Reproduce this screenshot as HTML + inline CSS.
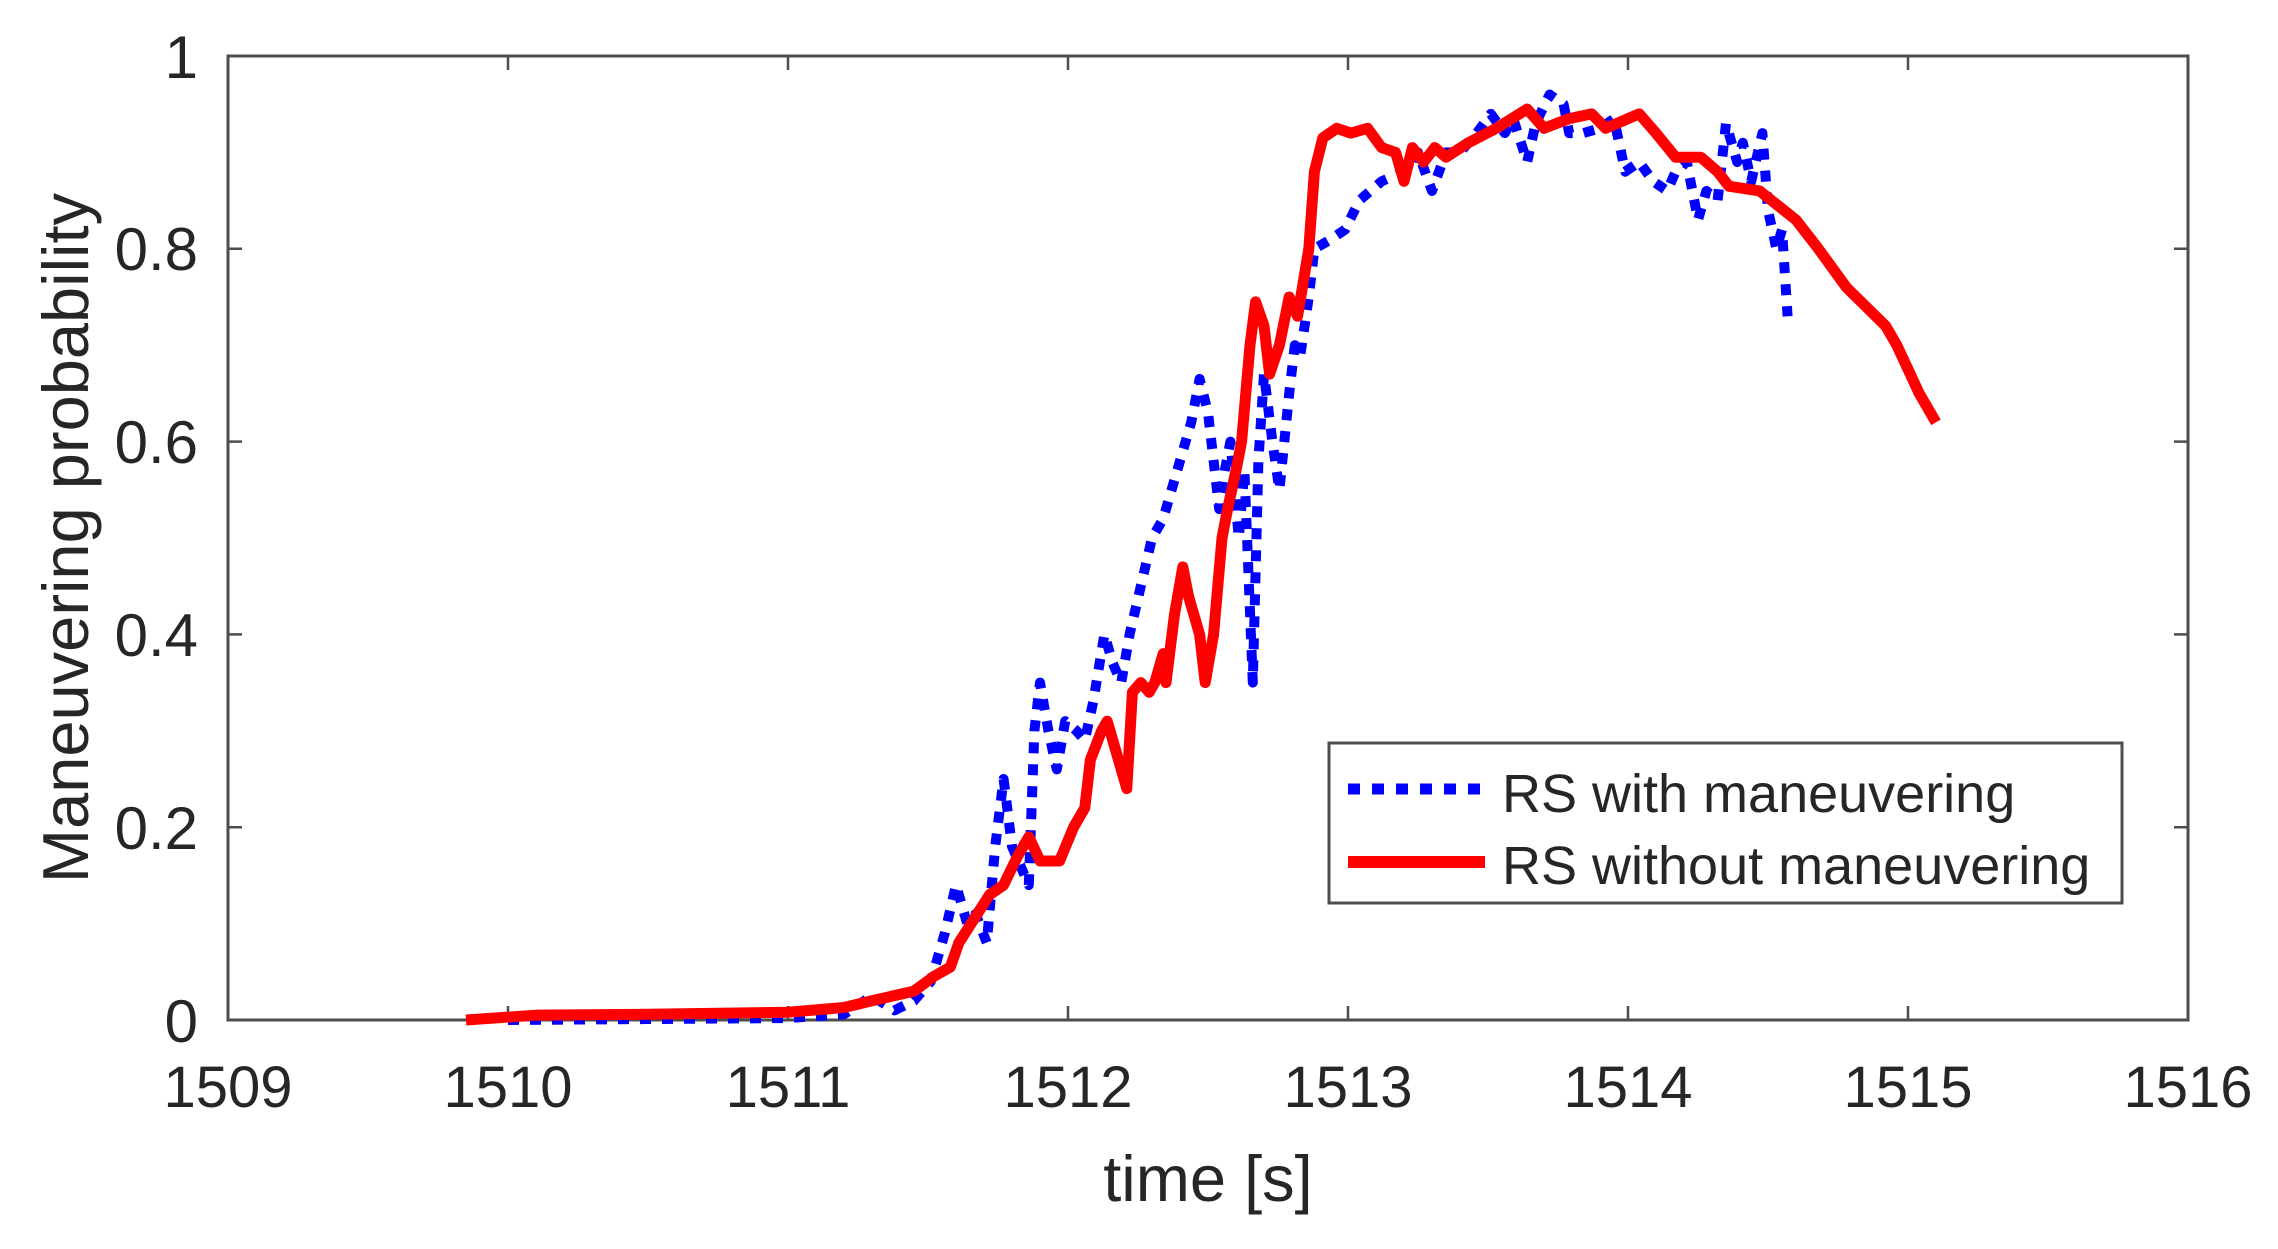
<!DOCTYPE html>
<html><head><meta charset="utf-8"><style>
html,body{margin:0;padding:0;background:#fff}
svg{display:block}
text{font-family:"Liberation Sans",Arial,sans-serif;fill:#262626}
</style></head><body>
<svg width="2278" height="1249" viewBox="0 0 2278 1249" xmlns="http://www.w3.org/2000/svg">
<rect width="2278" height="1249" fill="#fff"/>
<rect x="228" y="56" width="1960" height="964" fill="none" stroke="#4d4d4d" stroke-width="3"/>
<g stroke="#4d4d4d" stroke-width="2.5">
<path d="M508 1020v-14M788 1020v-14M1068 1020v-14M1348 1020v-14M1628 1020v-14M1908 1020v-14"/>
<path d="M508 56v14M788 56v14M1068 56v14M1348 56v14M1628 56v14M1908 56v14"/>
<path d="M228 827.2h14M228 634.4h14M228 441.6h14M228 248.8h14"/>
<path d="M2188 827.2h-14M2188 634.4h-14M2188 441.6h-14M2188 248.8h-14"/>
</g>
<g font-size="58" text-anchor="middle">
<text x="228" y="1107">1509</text><text x="508" y="1107">1510</text><text x="788" y="1107">1511</text>
<text x="1068" y="1107">1512</text><text x="1348" y="1107">1513</text><text x="1628" y="1107">1514</text>
<text x="1908" y="1107">1515</text><text x="2188" y="1107">1516</text>
</g>
<g font-size="60" text-anchor="end">
<text x="198" y="1042">0</text><text x="198" y="849">0.2</text><text x="198" y="656">0.4</text>
<text x="198" y="463">0.6</text><text x="198" y="270">0.8</text><text x="198" y="78">1</text>
</g>
<text x="1208" y="1201" font-size="65" text-anchor="middle">time [s]</text>
<text transform="translate(88,538) rotate(-90)" font-size="65" text-anchor="middle">Maneuvering probability</text>

<g transform="matrix(280,0,0,-964,228,1020)" fill="none" stroke-linejoin="round">
<polyline vector-effect="non-scaling-stroke" stroke="#0000ff" stroke-width="10" stroke-dasharray="11 11" points="
1.0,0.0 1.5,0.001 2.0,0.002 2.2,0.006 2.3,0.025 2.38,0.01 2.45,0.02 2.51,0.04 2.56,0.09 2.6,0.14 2.64,0.1 2.67,0.11 2.71,0.08 2.74,0.18 2.77,0.25 2.8,0.18 2.83,0.16 2.86,0.14 2.88,0.3 2.9,0.35 2.93,0.3 2.96,0.26 2.99,0.31 3.03,0.3 3.06,0.29 3.09,0.33 3.13,0.4 3.16,0.37 3.19,0.35 3.22,0.4 3.26,0.45 3.3,0.5 3.34,0.52 3.38,0.56 3.42,0.6 3.44,0.62 3.47,0.665 3.5,0.63 3.54,0.53 3.56,0.57 3.58,0.6 3.61,0.5 3.63,0.57 3.66,0.35 3.68,0.58 3.7,0.67 3.73,0.6 3.755,0.55 3.79,0.65 3.81,0.7 3.83,0.69 3.86,0.75 3.88,0.8 3.94,0.81 3.99,0.82 4.04,0.85 4.12,0.87 4.2,0.88 4.25,0.9 4.3,0.86 4.35,0.9 4.4,0.9 4.46,0.92 4.51,0.94 4.56,0.92 4.59,0.935 4.64,0.89 4.67,0.93 4.72,0.96 4.77,0.95 4.79,0.92 4.84,0.92 4.9,0.925 4.95,0.935 4.99,0.88 5.04,0.89 5.09,0.87 5.14,0.86 5.17,0.88 5.21,0.89 5.25,0.83 5.28,0.86 5.32,0.85 5.35,0.93 5.39,0.89 5.41,0.91 5.44,0.87 5.48,0.92 5.5,0.84 5.53,0.8 5.55,0.82 5.57,0.73"/>
<polyline vector-effect="non-scaling-stroke" stroke="#ff0000" stroke-width="11" points="
0.85,0 1.1,0.005 1.5,0.006 2.0,0.008 2.2,0.013 2.3,0.02 2.45,0.03 2.52,0.045 2.58,0.055 2.61,0.08 2.72,0.13 2.77,0.14 2.82,0.17 2.86,0.19 2.9,0.165 2.97,0.165 3.02,0.2 3.06,0.22 3.08,0.27 3.12,0.3 3.14,0.31 3.18,0.27 3.21,0.24 3.23,0.34 3.26,0.35 3.29,0.34 3.31,0.35 3.34,0.38 3.35,0.35 3.38,0.42 3.41,0.47 3.43,0.44 3.45,0.42 3.47,0.4 3.49,0.35 3.52,0.4 3.55,0.5 3.57,0.53 3.6,0.57 3.62,0.6 3.65,0.7 3.67,0.745 3.7,0.72 3.72,0.67 3.755,0.7 3.79,0.75 3.82,0.73 3.86,0.8 3.88,0.88 3.91,0.915 3.96,0.925 4.01,0.92 4.07,0.925 4.12,0.905 4.17,0.9 4.2,0.87 4.23,0.905 4.27,0.89 4.31,0.905 4.35,0.895 4.43,0.91 4.53,0.925 4.64,0.945 4.7,0.925 4.79,0.935 4.87,0.94 4.92,0.925 5.04,0.94 5.1,0.92 5.17,0.895 5.26,0.895 5.32,0.88 5.36,0.865 5.47,0.86 5.6,0.83 5.68,0.8 5.78,0.76 5.85,0.74 5.92,0.72 5.96,0.7 6.04,0.65 6.1,0.62"/>
</g>

<rect x="1329" y="743" width="793" height="160" fill="#fff" stroke="#4d4d4d" stroke-width="3"/>
<line x1="1348" y1="789" x2="1484" y2="789" stroke="#0000ff" stroke-width="11" stroke-dasharray="12 12"/>
<line x1="1348" y1="862" x2="1485" y2="862" stroke="#ff0000" stroke-width="12"/>
<text x="1502" y="812" font-size="54" fill="#111">RS with maneuvering</text>
<text x="1502" y="884" font-size="54" fill="#111">RS without maneuvering</text>
</svg>
</body></html>
